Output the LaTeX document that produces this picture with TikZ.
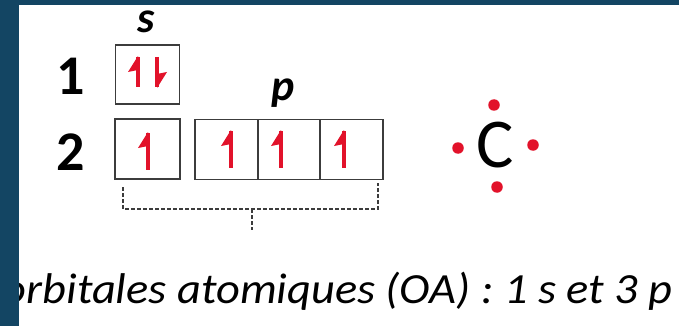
\documentclass[tikz,border=0pt]{standalone}
\usepackage{fontspec}
\setmainfont{Carlito}
\definecolor{bandblue}{RGB}{19,69,99}
\definecolor{spinred}{RGB}{226,18,42}
\definecolor{boxgray}{RGB}{60,60,60}
\begin{document}
\begin{tikzpicture}[x=1pt,y=-1pt,
  orb/.style={draw=boxgray,line width=1.8pt,rectangle,inner sep=0pt,minimum height=60pt},
  lvl/.style={font=\fontsize{56}{60}\selectfont\bfseries,inner sep=0pt},
  sub/.style={font=\fontsize{44}{50}\selectfont\bfseries\itshape,inner sep=0pt},
  brk/.style={draw=boxgray,line width=1.7pt,dash pattern=on 4pt off 2pt},
  dot/.style={circle,fill=spinred,inner sep=0pt,minimum size=11.5pt},
  spin/.style={spinred,line width=3.2pt}]
\useasboundingbox (0,0) rectangle (679,326);
\fill[white] (0,0) rectangle (679,326);
% caption (left part hidden by band)
\node[anchor=base east,inner sep=0pt,xscale=1.08,transform shape,font=\fontsize{43}{48}\selectfont\itshape] (cap) at (673,303) {orbitales atomiques (OA) : 1 s et 3 p};
% band
\fill[bandblue] (0,0) rectangle (679,5);
\fill[bandblue] (0,0) rectangle (19,326);
% level labels
\node[lvl] (n1) at (71,76) {1};
\node[lvl] (n2) at (71,152) {2};
\node[sub] (ls) at (146,22) {s};
\node[sub,anchor=base] (lp) at (283,101) {p};
% boxes
\node[orb,minimum width=64pt,minimum height=59pt] (b1s) at (147.5,74.5) {};
\node[orb,minimum width=65pt] (b2s) at (147.5,149) {};
\node[orb,minimum width=62.7pt] (p1) at (226.3,149.5) {};
\node[orb,minimum width=62.7pt] (p2) at (289,149.5) {};
\node[orb,minimum width=62.7pt] (p3) at (351.7,149.5) {};
% spins
\foreach \nm/\xx/\yt/\yb in {u1/138/57/87, u2/148/133/170, u3/231/131/168, u4/281/131/168, u5/344/131/168}{
  \coordinate (\nm t) at (\xx,\yt);
  \coordinate (\nm b) at (\xx,\yb);
  \draw[spin] (\nm t) -- (\nm b);
  \fill[spinred] ([yshift=1pt]\nm t) -- ++(-10,16) -- ++(10,-2) -- cycle;
}
\coordinate (d1t) at (157,57);
\coordinate (d1b) at (157,87);
\draw[spin] (d1t) -- (d1b);
\fill[spinred] ([yshift=-1pt]d1b) -- ++(10,-16) -- ++(-10,2) -- cycle;
% bracket
\coordinate (bl) at (123,187);
\coordinate (blc) at (123,209);
\coordinate (brc) at (378,209);
\coordinate (br) at (378,183);
\coordinate (bm) at (252,209);
\coordinate (bmt) at (252,230);
\draw[brk] (bl) -- (blc) -- (brc) -- (br);
\draw[brk] (bm) -- (bmt);
% Lewis C
\node[inner sep=0pt,font=\fontsize{70}{74}\selectfont] (C) at (495,145) {C};
\node[dot] (dt) at (494,105) {};
\node[dot] (dl) at (458,148) {};
\node[dot] (dr) at (533,145) {};
\node[dot] (db) at (497,187) {};
\end{tikzpicture}
\end{document}
